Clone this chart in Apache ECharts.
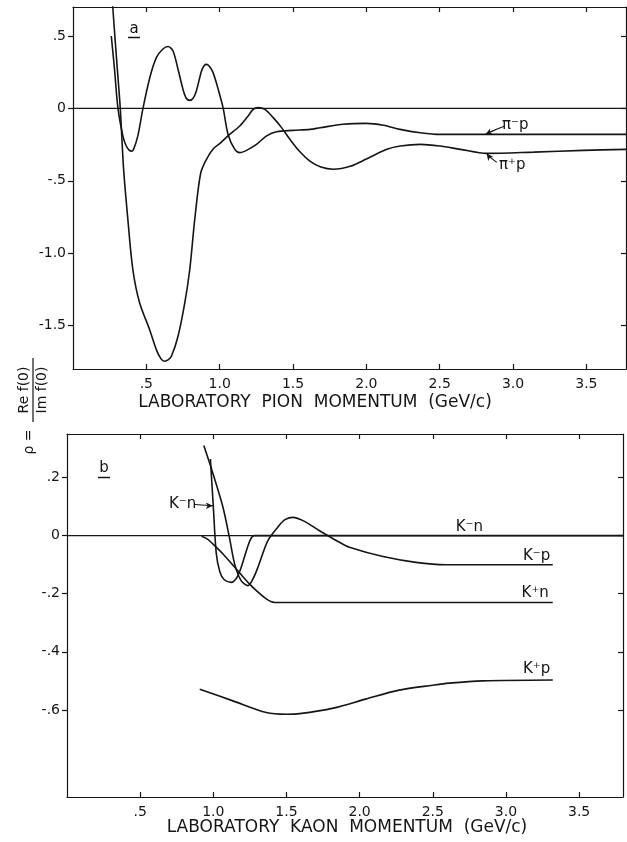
<!DOCTYPE html>
<html>
<head>
<meta charset="utf-8">
<script src="https://cdn.jsdelivr.net/npm/echarts@6/dist/echarts.min.js"></script>
<style>
  html, body { margin: 0; padding: 0; background: #fff; }
  #main { width: 627px; height: 842px; }
</style>
</head>
<body>
<div id="main"></div>
<script>
// panel a: pion-proton, rho vs lab momentum (GeV/c)
const piMinusP = [
    [0.261, 0.50], [0.283, 0.27], [0.306, 0.005], [0.34, -0.19], [0.363, -0.26], [0.385, -0.29], [0.398, -0.295],
    [0.412, -0.285], [0.442, -0.19], [0.477, 0.0], [0.523, 0.21], [0.568, 0.35], [0.613, 0.41], [0.648, 0.427],
    [0.682, 0.396], [0.716, 0.27], [0.75, 0.131], [0.772, 0.07], [0.796, 0.055], [0.82, 0.072], [0.841, 0.12],
    [0.876, 0.258], [0.895, 0.296], [0.91, 0.304], [0.928, 0.292], [0.955, 0.247], [0.99, 0.131], [1.023, 0.005],
    [1.057, -0.18], [1.103, -0.283], [1.137, -0.306], [1.183, -0.29], [1.251, -0.249], [1.32, -0.19],
    [1.388, -0.161], [1.50, -0.152], [1.615, -0.145], [1.684, -0.134], [1.843, -0.11], [2.0, -0.104],
    [2.116, -0.117], [2.23, -0.145], [2.367, -0.168], [2.50, -0.18], [2.82, -0.18], [3.77, -0.18]
];
const piPlusP = [
    [0.266, 0.78], [0.277, 0.615], [0.30, 0.30], [0.322, 0.005], [0.345, -0.42], [0.374, -0.767],
    [0.408, -1.113], [0.454, -1.343], [0.522, -1.527], [0.568, -1.666], [0.60, -1.73], [0.625, -1.746],
    [0.648, -1.737], [0.671, -1.712], [0.716, -1.574], [0.762, -1.343], [0.796, -1.113], [0.83, -0.767],
    [0.87, -0.45], [0.91, -0.352], [0.955, -0.28], [1.0, -0.244], [1.057, -0.19], [1.137, -0.122],
    [1.194, -0.053], [1.228, -0.007], [1.262, 0.005], [1.308, -0.007], [1.365, -0.064], [1.422, -0.133],
    [1.479, -0.214], [1.547, -0.30], [1.615, -0.364], [1.69, -0.405], [1.775, -0.42], [1.89, -0.40],
    [2.0, -0.35], [2.14, -0.283], [2.23, -0.26], [2.37, -0.249], [2.5, -0.26], [2.64, -0.283],
    [2.82, -0.311], [3.14, -0.302], [3.48, -0.29], [3.77, -0.283]
];
const zeroA = [[0, 0], [3.77, 0]];

// panel b: kaon-nucleon
const kMinusN = [
    [0.98, 0.264], [1.0, 0.10], [1.02, -0.06], [1.045, -0.125], [1.075, -0.152], [1.123, -0.161],
    [1.16, -0.145], [1.19, -0.11], [1.226, -0.052], [1.255, -0.012], [1.28, 0], [1.35, 0], [3.8, 0]
];
const kMinusP = [
    [0.935, 0.31], [0.998, 0.213], [1.066, 0.098], [1.11, -0.006], [1.146, -0.098], [1.19, -0.155],
    [1.237, -0.172], [1.27, -0.15], [1.305, -0.109], [1.373, -0.017], [1.45, 0.035], [1.49, 0.055],
    [1.544, 0.063], [1.62, 0.05], [1.726, 0.017], [1.862, -0.023], [1.93, -0.04], [2.16, -0.072],
    [2.385, -0.092], [2.59, -0.10], [3.32, -0.10]
];
const kPlusN = [
    [0.92, -0.002], [0.96, -0.012], [1.0, -0.03], [1.066, -0.063], [1.157, -0.115], [1.248, -0.167],
    [1.362, -0.218], [1.42, -0.23], [3.32, -0.23]
];
const kPlusP = [
    [0.907, -0.529], [1.134, -0.569], [1.362, -0.609], [1.50, -0.615], [1.59, -0.613], [1.82, -0.594],
    [2.04, -0.563], [2.27, -0.532], [2.50, -0.515], [2.61, -0.508], [2.84, -0.50], [3.32, -0.497]
];
const zeroB = [[0, 0], [3.8, 0]];

// ticks
const xTicks = [0.5, 1.0, 1.5, 2.0, 2.5, 3.0, 3.5];
const xTickLabels = ['.5', '1.0', '1.5', '2.0', '2.5', '3.0', '3.5'];
const yTicksA = [0.5, 0, -0.5, -1.0, -1.5];
const yTickLabelsA = ['.5', '0', '-.5', '-1.0', '-1.5'];
const yTicksB = [0.2, 0, -0.2, -0.4, -0.6];
const yTickLabelsB = ['.2', '0', '-.2', '-.4', '-.6'];

// curve labels (data coords)
const labelsA = [
    { name: 'π⁻p', value: [3.015, -0.117] },
    { name: 'π⁺p', value: [2.995, -0.394] }
];
const labelsB = [
    { name: 'K⁻n', value: [2.75, 0.03] },
    { name: 'K⁻p', value: [3.21, -0.069] },
    { name: 'K⁺n', value: [3.20, -0.198] },
    { name: 'K⁺p', value: [3.21, -0.46] },
    { name: 'K⁻n', value: [0.79, 0.107] }
];
const arrowPiMinus = [[2.94, -0.124], [2.87, -0.152], [2.81, -0.18]];
const arrowPiPlus = [[2.89, -0.373], [2.845, -0.339], [2.82, -0.311]];
const arrowKMinusN = [[0.874, 0.107], [0.997, 0.103]];

const ink = '#151515';
const font = '"DejaVu Sans", sans-serif';

function pick(ticks, labels) {
    return v => {
        const i = ticks.findIndex(t => Math.abs(t - v) < 1e-6);
        return i >= 0 ? labels[i] : '';
    };
}

function axis(gridIndex, position, min, max, ticks, labels, showLabel, tickInside) {
    return {
        type: 'value',
        gridIndex: gridIndex,
        position: position,
        min: min,
        max: max,
        axisLine: { show: true, onZero: false, lineStyle: { color: ink, width: 1.2 } },
        axisTick: { show: true, inside: tickInside, length: 5, customValues: ticks, lineStyle: { color: ink, width: 1.2 } },
        axisLabel: {
            show: showLabel,
            customValues: ticks,
            formatter: pick(ticks, labels),
            color: ink,
            fontSize: 14,
            fontFamily: font,
            margin: (position === 'left') ? 7 : 8
        },
        splitLine: { show: false }
    };
}

function curve(data, xi, yi, width) {
    return {
        type: 'line',
        xAxisIndex: xi,
        yAxisIndex: yi,
        data: data,
        smooth: 0.3,
        showSymbol: false,
        symbol: 'none',
        clip: true,
        silent: true,
        lineStyle: { color: ink, width: width || 1.6 }
    };
}

function arrow(data, xi, yi, rot) {
    const d = data.map((p, i) => i === data.length - 1
        ? { value: p, symbol: 'arrow', symbolSize: [5, 7], symbolRotate: rot }
        : { value: p, symbol: 'none' });
    return {
        type: 'line',
        xAxisIndex: xi,
        yAxisIndex: yi,
        data: d,
        smooth: 0.4,
        showSymbol: true,
        showAllSymbol: true,
        silent: true,
        itemStyle: { color: ink },
        lineStyle: { color: ink, width: 1.1 }
    };
}

function textSeries(data, xi, yi) {
    return {
        type: 'scatter',
        xAxisIndex: xi,
        yAxisIndex: yi,
        data: data,
        symbol: 'circle',
        symbolSize: 1,
        itemStyle: { color: 'rgba(0,0,0,0)', opacity: 1 },
        silent: true,
        labelLayout: { hideOverlap: false },
        label: {
            show: true,
            position: 'inside',
            formatter: '{b}',
            color: ink,
            opacity: 1,
            fontSize: 15,
            fontFamily: font
        }
    };
}

const chart = echarts.init(document.getElementById('main'));

chart.setOption({
    animation: false,
    backgroundColor: '#fff',
    grid: [
        { left: 73, top: 7, width: 553, height: 362 },
        { left: 67, top: 434, width: 556, height: 363 }
    ],
    xAxis: [
        axis(0, 'bottom', 0, 3.77, xTicks, xTickLabels, true, true),
        axis(0, 'top', 0, 3.77, xTicks, xTickLabels, false, true),
        axis(1, 'bottom', 0, 3.8, xTicks, xTickLabels, true, true),
        axis(1, 'top', 0, 3.8, xTicks, xTickLabels, false, true)
    ],
    yAxis: [
        axis(0, 'left', -1.8, 0.7, yTicksA, yTickLabelsA, true, false),
        axis(0, 'right', -1.8, 0.7, yTicksA, yTickLabelsA, false, true),
        axis(1, 'left', -0.9, 0.35, yTicksB, yTickLabelsB, true, false),
        axis(1, 'right', -0.9, 0.35, yTicksB, yTickLabelsB, false, true)
    ],
    series: [
        curve(zeroA, 0, 0, 1.1),
        curve(piMinusP, 0, 0),
        curve(piPlusP, 0, 0),
        arrow(arrowPiMinus, 0, 0, 114),
        arrow(arrowPiPlus, 0, 0, 37),
        textSeries(labelsA, 0, 0),

        curve(zeroB, 2, 2, 1.1),
        curve(kMinusN, 2, 2),
        curve(kMinusP, 2, 2),
        curve(kPlusN, 2, 2),
        curve(kPlusP, 2, 2),
        arrow(arrowKMinusN, 2, 2, -90),
        textSeries(labelsB, 2, 2)
    ],
    graphic: [
        // panel letters
        { type: 'text', x: 134, y: 29, style: { text: 'a', font: '15px ' + font, fill: ink, align: 'center', verticalAlign: 'middle' } },
        { type: 'line', shape: { x1: 128, y1: 37.5, x2: 140, y2: 37.5 }, style: { stroke: ink, lineWidth: 1.5 } },
        { type: 'text', x: 104, y: 468, style: { text: 'b', font: '15px ' + font, fill: ink, align: 'center', verticalAlign: 'middle' } },
        { type: 'line', shape: { x1: 98, y1: 477.5, x2: 110, y2: 477.5 }, style: { stroke: ink, lineWidth: 1.5 } },
        // axis titles
        { type: 'text', x: 315, y: 403, style: { text: 'LABORATORY  PION  MOMENTUM  (GeV/c)', font: '17px ' + font, fill: ink, align: 'center', verticalAlign: 'middle' } },
        { type: 'text', x: 347, y: 828, style: { text: 'LABORATORY  KAON  MOMENTUM  (GeV/c)', font: '17px ' + font, fill: ink, align: 'center', verticalAlign: 'middle' } },
        // rho = Re f(0) / Im f(0), rotated
        {
            type: 'group',
            x: 33,
            y: 390,
            rotation: Math.PI / 2,
            children: [
                { type: 'line', shape: { x1: -32, y1: 0, x2: 32, y2: 0 }, style: { stroke: ink, lineWidth: 1.2 } },
                { type: 'text', x: 0, y: -2, style: { text: 'Re f(0)', font: '14px ' + font, fill: ink, align: 'center', verticalAlign: 'bottom' } },
                { type: 'text', x: 0, y: 2, style: { text: 'Im f(0)', font: '14px ' + font, fill: ink, align: 'center', verticalAlign: 'top' } },
                { type: 'text', x: -52, y: -4, style: { text: 'ρ =', font: '14px ' + font, fill: ink, align: 'center', verticalAlign: 'middle' } }
            ]
        }
    ]
});
</script>
</body>
</html>
